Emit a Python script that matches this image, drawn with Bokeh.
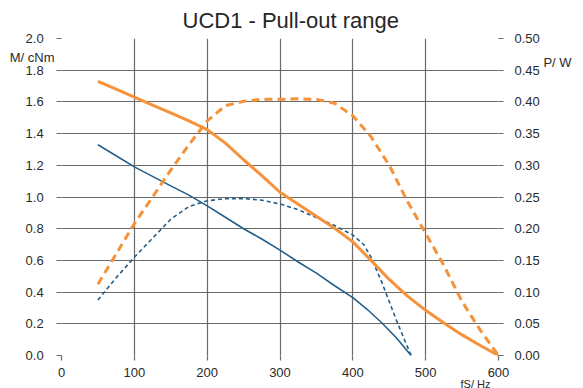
from bokeh.plotting import figure
from bokeh.models import Range1d, LinearAxis, FixedTicker, Title
from bokeh.embed import file_html
from bokeh.resources import INLINE

# Torque (M, cNm) - left axis
m_orange_x = [50, 75, 100, 125, 150, 175, 200, 225, 250, 275, 300, 325, 350, 375, 400, 425, 450, 475, 500, 525, 550, 575, 600]
m_orange_y = [1.73, 1.68, 1.63, 1.58, 1.53, 1.48, 1.425, 1.34, 1.235, 1.135, 1.03, 0.955, 0.878, 0.803, 0.717, 0.60, 0.48, 0.375, 0.285, 0.205, 0.13, 0.063, 0.0]

m_blue_x = [50, 75, 100, 125, 150, 175, 200, 225, 250, 275, 300, 325, 350, 375, 400, 420, 440, 460, 480]
m_blue_y = [1.33, 1.26, 1.19, 1.13, 1.07, 1.012, 0.944, 0.872, 0.80, 0.735, 0.665, 0.59, 0.52, 0.44, 0.365, 0.29, 0.205, 0.11, 0.0]

# Power (P, W) - right axis
p_blue_x = [50, 75, 100, 125, 150, 175, 200, 225, 250, 275, 300, 325, 350, 375, 400, 415, 425, 440, 460, 480]
p_blue_y = [0.0875, 0.1225, 0.155, 0.185, 0.215, 0.235, 0.244, 0.2475, 0.2475, 0.245, 0.239, 0.23, 0.2175, 0.205, 0.19, 0.175, 0.155, 0.115, 0.055, 0.0]

p_orange_x = [50, 75, 100, 125, 150, 175, 200, 225, 250, 275, 300, 325, 350, 375, 400, 425, 450, 475, 500, 525, 550, 575, 600]
p_orange_y = [0.1125, 0.16, 0.208, 0.25, 0.2925, 0.3325, 0.37, 0.394, 0.401, 0.404, 0.404, 0.405, 0.404, 0.398, 0.378, 0.345, 0.30, 0.243, 0.1925, 0.142, 0.085, 0.04, 0.0]

x_ticks = [0, 100, 200, 300, 400, 500, 600]
m_ticks = [0.0, 0.2, 0.4, 0.6, 0.8, 1.0, 1.2, 1.4, 1.6, 1.8, 2.0]
p_ticks = [0.0, 0.05, 0.10, 0.15, 0.20, 0.25, 0.30, 0.35, 0.40, 0.45, 0.50]

m_unit_pos = 1.88
m_unit_text = "M/ cNm"
p_unit_pos = 0.462
p_unit_text = "P/ W"
x_unit_text = "fS/ Hz"
title_text = "UCD1 - Pull-out range"

FONT = "Liberation Sans"
ORANGE = "#f5923a"
BLUE = "#235f8c"
GRID = "#6a6a6a"
TXT = "#2a2a2a"
NB = "\u00a0"

p = figure(width=578, height=388, output_backend="svg", toolbar_location=None,
           x_range=Range1d(0, 600), y_range=Range1d(0, 2.0),
           title=title_text,
           min_border_left=61, min_border_right=80, min_border_top=10, min_border_bottom=33)
p.title.align = "left"
p.title.offset = 121
p.title.text_font = FONT
p.title.text_font_size = "22px"
p.title.text_font_style = "normal"
p.title.text_color = "#262626"
p.title.standoff = 11
p.outline_line_color = None

p.extra_y_ranges = {"pw": Range1d(0, 0.5)}


def style_axis(ax, standoff, size="13px"):
    ax.axis_line_color = None
    ax.major_tick_line_color = None
    ax.major_tick_in = 0
    ax.major_tick_out = 0
    ax.minor_tick_line_color = GRID
    ax.minor_tick_line_width = 1.2
    ax.minor_tick_in = 0
    ax.minor_tick_out = 5
    ax.major_label_text_font = FONT
    ax.major_label_text_font_size = size
    ax.major_label_text_color = TXT
    ax.major_label_standoff = standoff


xa = p.xaxis[0]
xa.ticker = FixedTicker(ticks=x_ticks, minor_ticks=x_ticks)
style_axis(xa, 7)

ya = p.yaxis[0]
ya.ticker = FixedTicker(ticks=m_ticks + [m_unit_pos], minor_ticks=m_ticks)
left_labels = {t: f"{t:.1f}" + NB * 3 for t in m_ticks}
left_labels[m_unit_pos] = m_unit_text
ya.major_label_overrides = left_labels
style_axis(ya, 2)

rax = LinearAxis(y_range_name="pw",
                 ticker=FixedTicker(ticks=p_ticks + [p_unit_pos], minor_ticks=p_ticks))
right_labels = {t: f"{t:.2f}" for t in p_ticks}
right_labels[p_unit_pos] = NB * 8 + p_unit_text
rax.major_label_overrides = right_labels
style_axis(rax, 11)
p.add_layout(rax, "right")

p.xgrid[0].ticker = FixedTicker(ticks=x_ticks)
p.ygrid[0].ticker = FixedTicker(ticks=m_ticks)
p.xgrid.grid_line_color = GRID
p.ygrid.grid_line_color = GRID
p.xgrid.grid_line_width = 1.2
p.ygrid.grid_line_width = 1.2

p.line(m_blue_x, m_blue_y, line_color=BLUE, line_width=1.6)
p.line(p_blue_x, p_blue_y, y_range_name="pw", line_color=BLUE, line_width=1.6, line_dash="4 3")
p.line(m_orange_x, m_orange_y, line_color=ORANGE, line_width=3)
p.line(p_orange_x, p_orange_y, y_range_name="pw", line_color=ORANGE, line_width=3, line_dash="8 5")

xt = Title(text=x_unit_text, align="right", offset=8, text_font=FONT, text_font_size="11px",
           text_font_style="normal", text_color=TXT, standoff=0)
try:
    xt.standoff = -8
except Exception:
    xt.standoff = 0
p.add_layout(xt, "below")

open("out.html", "w").write(file_html(p, INLINE))
